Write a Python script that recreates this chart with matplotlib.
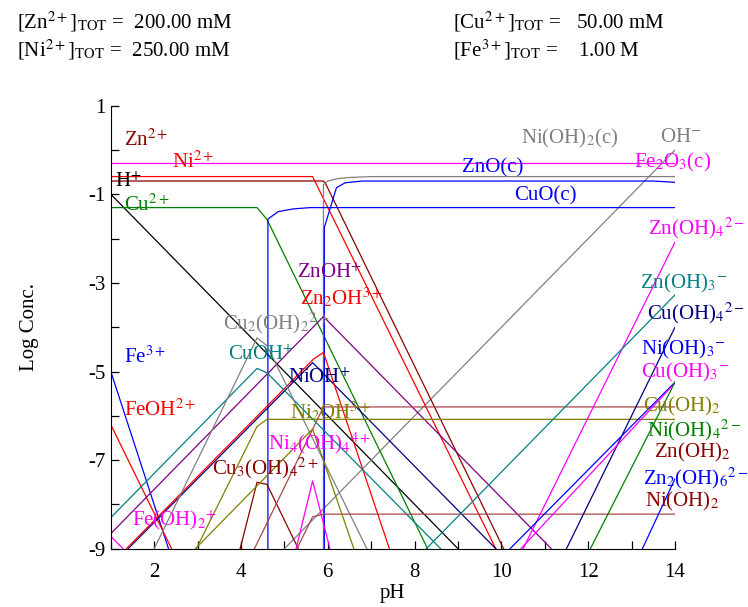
import matplotlib
matplotlib.use("Agg")
import matplotlib.pyplot as plt

plt.rcParams['font.family'] = 'serif'
plt.rcParams['font.serif'] = ['Liberation Serif', 'DejaVu Serif']
plt.rcParams['mathtext.fontset'] = 'stix'
plt.rcParams['axes.unicode_minus'] = False

# breakpoints: pH and log concentration
h_ph = [1, 9]
h_lc = [-1, -9]
oh_ph = [5, 14]
oh_lc = [-9, 0]
zn_ph = [1, 5.9, 5.95, 10.05]
zn_lc = [-0.70, -0.70, -0.76, -9]
ni_ph = [1, 5.65, 9.87]
ni_lc = [-0.60, -0.60, -9]
cu_ph = [1, 4.37, 4.6, 8.3]
cu_lc = [-1.30, -1.30, -1.57, -9]
fe2o3_ph = [1, 14]
fe2o3_lc = [-0.30, -0.30]
nioh2c_ph = [5.9, 5.9, 6.0, 6.2, 6.5, 7.0, 14]
nioh2c_lc = [-9, -0.78, -0.70, -0.65, -0.62, -0.60, -0.60]
znoc_ph = [5.92, 5.92, 6.2, 6.4, 6.8, 13.5, 14]
znoc_lc = [-9, -1.75, -0.85, -0.74, -0.70, -0.70, -0.73]
cuoc_ph = [4.62, 4.62, 4.86, 5.2, 5.6, 14]
cuoc_lc = [-9, -1.56, -1.39, -1.33, -1.30, -1.30]
fe_ph = [1, 2.33]
fe_lc = [-5.0, -9]
feoh_ph = [1, 2.4]
feoh_lc = [-6.2, -9]
feoh2_ph = [1, 1.28]
feoh2_lc = [-8.72, -9]
znoh_ph = [1, 5.9, 11.15]
znoh_lc = [-8.66, -3.76, -9]
zn2oh_ph = [1.36, 5.67, 5.9, 7.42]
zn2oh_lc = [-9, -4.72, -4.57, -9]
nioh_ph = [1.4, 5.65, 9.87]
nioh_lc = [-9, -4.8, -9]
cuoh_ph = [1, 4.37, 4.6, 8.6]
cuoh_lc = [-8.3, -4.93, -5.03, -9]
cu2oh2_ph = [2.0, 4.37, 4.6, 6.9]
cu2oh2_lc = [-9, -4.24, -4.42, -9]
cu3oh4_ph = [3.98, 4.37, 4.6, 5.32]
cu3oh4_lc = [-9, -7.5, -7.55, -9]
cuoh2_ph = [2.97, 4.37, 4.6, 14]
cuoh2_lc = [-9, -6.24, -6.08, -6.08]
znoh2_ph = [4.31, 5.9, 14]
znoh2_lc = [-9, -5.8, -5.8]
nioh2_ph = [5.29, 5.65, 5.9, 14]
nioh2_lc = [-9, -8.28, -8.22, -8.22]
ni2oh_ph = [2.95, 5.65, 6.6]
ni2oh_lc = [-9, -6.3, -9]
ni4oh4_ph = [5.27, 5.65, 6.05]
ni4oh4_lc = [-9, -7.47, -9]
znoh4_ph = [10.5, 14]
znoh4_lc = [-9, -2.08]
znoh3_ph = [8.27, 14]
znoh3_lc = [-9, -3.27]
cuoh4_ph = [11.5, 14]
cuoh4_lc = [-9, -4.0]
nioh3_ph = [10.2, 14]
nioh3_lc = [-9, -5.24]
cuoh3_ph = [10.45, 14]
cuoh3_lc = [-9, -5.26]
nioh4_ph = [12.05, 14]
nioh4_lc = [-9, -5.24]
zn2oh6_ph = [13.25, 14]
zn2oh6_lc = [-9, -7.42]

lines = [
    (h_ph, h_lc, 'black'),
    (oh_ph, oh_lc, 'grey'),
    (fe2o3_ph, fe2o3_lc, 'magenta'),
    (zn_ph, zn_lc, 'darkred'),
    (ni_ph, ni_lc, 'red'),
    (cu_ph, cu_lc, 'green'),
    (nioh2c_ph, nioh2c_lc, 'grey'),
    (znoc_ph, znoc_lc, 'blue'),
    (cuoc_ph, cuoc_lc, 'blue'),
    (fe_ph, fe_lc, 'blue'),
    (feoh_ph, feoh_lc, 'red'),
    (feoh2_ph, feoh2_lc, 'magenta'),
    (znoh_ph, znoh_lc, 'purple'),
    (nioh_ph, nioh_lc, 'navy'),
    (zn2oh_ph, zn2oh_lc, 'red'),
    (cuoh_ph, cuoh_lc, 'teal'),
    (cu2oh2_ph, cu2oh2_lc, 'grey'),
    (cu3oh4_ph, cu3oh4_lc, 'darkred'),
    (cuoh2_ph, cuoh2_lc, 'olive'),
    (znoh2_ph, znoh2_lc, '#a84848'),
    (nioh2_ph, nioh2_lc, '#a84848'),
    (ni2oh_ph, ni2oh_lc, 'olive'),
    (ni4oh4_ph, ni4oh4_lc, 'magenta'),
    (znoh4_ph, znoh4_lc, 'magenta'),
    (znoh3_ph, znoh3_lc, 'teal'),
    (cuoh4_ph, cuoh4_lc, 'navy'),
    (nioh3_ph, nioh3_lc, 'blue'),
    (cuoh3_ph, cuoh3_lc, 'magenta'),
    (nioh4_ph, nioh4_lc, 'green'),
    (zn2oh6_ph, zn2oh6_lc, 'blue'),
]

# species labels: text, colour, pixel position (left, centre)
labels = [
    (r'Zn$^{2+}$', 'darkred', 124, 140),
    (r'Ni$^{2+}$', 'red', 172, 162),
    (r'H$^{+}$', 'black', 115, 182),
    (r'Cu$^{2+}$', 'green', 124, 205),
    (r'Ni(OH)$_2$(c)', 'grey', 521, 138),
    (r'OH$^{-}$', 'grey', 660, 138),
    (r'ZnO(c)', 'blue', 462, 168),
    (r'CuO(c)', 'blue', 514, 196),
    (r'Fe$_2$O$_3$(c)', 'magenta', 634, 162),
    (r'Zn(OH)$_4$$^{2-}$', 'magenta', 648, 228),
    (r'Zn(OH)$_3$$^{-}$', 'teal', 640, 283),
    (r'Cu(OH)$_4$$^{2-}$', 'navy', 647, 313),
    (r'Ni(OH)$_3$$^{-}$', 'blue', 641, 349),
    (r'Cu(OH)$_3$$^{-}$', 'magenta', 641, 372),
    (r'Cu(OH)$_2$', 'olive', 643, 406),
    (r'Ni(OH)$_4$$^{2-}$', 'green', 647, 430),
    (r'Zn(OH)$_2$', 'darkred', 654, 452),
    (r'Zn$_2$(OH)$_6$$^{2-}$', 'blue', 643, 478),
    (r'Ni(OH)$_2$', 'darkred', 645, 501),
    (r'ZnOH$^{+}$', 'purple', 297, 273),
    (r'Zn$_2$OH$^{3+}$', 'red', 300, 298),
    (r'Cu$_2$(OH)$_2$$^{2+}$', 'grey', 223, 323),
    (r'CuOH$^{+}$', 'teal', 228, 355),
    (r'Fe$^{3+}$', 'blue', 124, 357),
    (r'NiOH$^{+}$', 'navy', 288, 378),
    (r'FeOH$^{2+}$', 'red', 124, 410),
    (r'Ni$_2$OH$^{3+}$', 'olive', 290, 412),
    (r'Ni$_4$(OH)$_4$$^{4+}$', 'magenta', 268, 443),
    (r'Cu$_3$(OH)$_4$$^{2+}$', 'darkred', 212, 468),
    (r'Fe(OH)$_2$$^{+}$', 'magenta', 132, 520),
]

W, H = 748, 607
fig = plt.figure(figsize=(W / 100, H / 100), dpi=100)
ax = fig.add_axes([110.8 / W, 1 - 548.7 / H, (675 - 110.8) / W, (548.7 - 105.7) / H])

for ph, lc, col in lines:
    ax.plot(ph, lc, color=col, lw=0.9, clip_on=True)

ax.set_xlim(1, 14)
ax.set_ylim(-9, 1)
ax.spines['top'].set_visible(False)
ax.spines['right'].set_visible(False)
ax.set_xticks(range(2, 15, 2))
ax.set_xticks(range(1, 15), minor=True)
ax.set_yticks(range(-9, 2, 2))
ax.set_yticks(range(-9, 2), minor=True)
ax.tick_params(which='both', direction='in', length=6, width=0.9, labelsize=15)
ax.tick_params(axis='x', pad=10)
ax.set_xlabel('pH', fontsize=15, labelpad=2)
ax.set_ylabel('Log Conc.', fontsize=15, labelpad=36)

for txt, col, px, py in labels:
    fig.text(px / W, 1 - py / H, txt, color=col, fontsize=15, ha='left', va='center')

# header with total concentrations
fig.text(17 / W, 1 - 22 / H, r'[Zn$^{2+}$]$_{\mathrm{TOT}}$ =  200.00 mM', fontsize=15, va='center')
fig.text(17 / W, 1 - 50 / H, r'[Ni$^{2+}$]$_{\mathrm{TOT}}$ =  250.00 mM', fontsize=15, va='center')
fig.text(453 / W, 1 - 22 / H, r'[Cu$^{2+}$]$_{\mathrm{TOT}}$ =   50.00 mM', fontsize=15, va='center')
fig.text(453 / W, 1 - 50 / H, r'[Fe$^{3+}$]$_{\mathrm{TOT}}$ =    1.00 M', fontsize=15, va='center')

fig.savefig('out.png', dpi=100)
